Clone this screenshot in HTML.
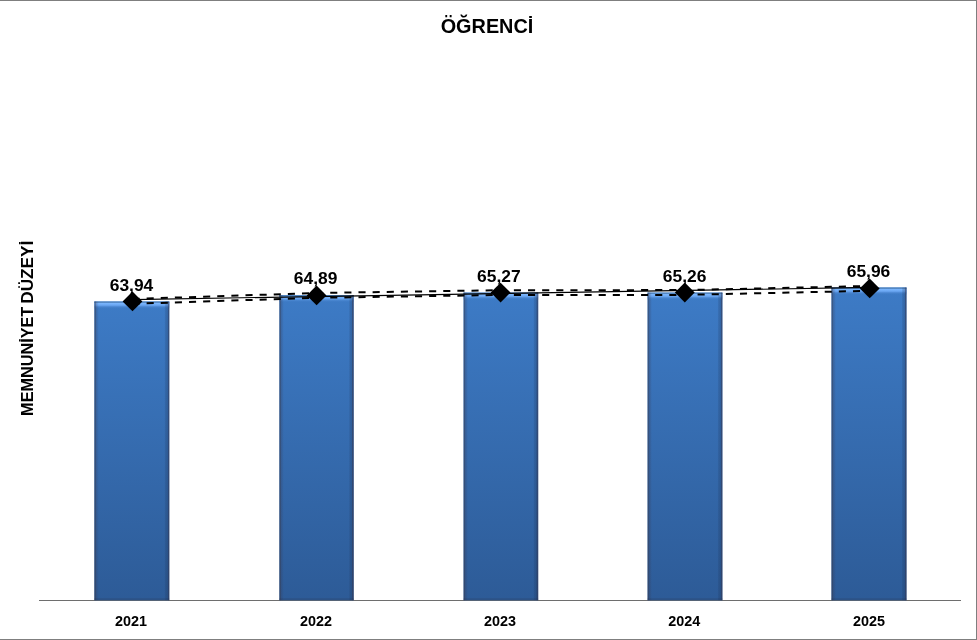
<!DOCTYPE html>
<html lang="tr"><head><meta charset="utf-8"><title>ÖĞRENCİ</title>
<style>
html,body{margin:0;padding:0;background:#fff;}
body{width:977px;height:640px;overflow:hidden;}
svg{display:block;}
text{font-family:"Liberation Sans",Arial,sans-serif;font-weight:bold;fill:#000;}
</style></head><body>
<svg width="977" height="640" viewBox="0 0 977 640">
<defs>
<linearGradient id="bg" x1="0" y1="0" x2="0" y2="1">
<stop offset="0" stop-color="#3d7bc6"/><stop offset="1" stop-color="#2d5b97"/>
</linearGradient>
<linearGradient id="hl" x1="0" y1="0" x2="0" y2="1">
<stop offset="0" stop-color="#4f83c0"/><stop offset="0.14" stop-color="#5489c6"/><stop offset="0.24" stop-color="#7ab5fc"/><stop offset="0.5" stop-color="#6ca8f4" stop-opacity="0.95"/><stop offset="0.75" stop-color="#4c88d2" stop-opacity="0.6"/><stop offset="1" stop-color="#3d7bc6" stop-opacity="0"/>
</linearGradient>
<linearGradient id="le" x1="0" y1="0" x2="1" y2="0">
<stop offset="0" stop-color="#373748" stop-opacity="0.35"/><stop offset="0.14" stop-color="#373748" stop-opacity="0.5"/><stop offset="0.36" stop-color="#373748" stop-opacity="0.5"/><stop offset="0.44" stop-color="#373750" stop-opacity="0.24"/><stop offset="0.6" stop-color="#373750" stop-opacity="0.2"/><stop offset="0.8" stop-color="#373750" stop-opacity="0.07"/><stop offset="1" stop-color="#373750" stop-opacity="0"/>
</linearGradient>
<linearGradient id="re" x1="0" y1="0" x2="1" y2="0">
<stop offset="0" stop-color="#182846" stop-opacity="0"/><stop offset="0.25" stop-color="#182846" stop-opacity="0.16"/><stop offset="0.64" stop-color="#182846" stop-opacity="0.24"/><stop offset="0.7" stop-color="#303450" stop-opacity="0.6"/><stop offset="1" stop-color="#303450" stop-opacity="0.62"/>
</linearGradient>
</defs>
<rect x="0" y="0" width="977" height="640" fill="#ffffff"/>
<rect x="0" y="0" width="977" height="1" fill="#7f7f7f"/>
<rect x="0" y="639" width="977" height="1" fill="#7f7f7f"/>
<rect x="976" y="0" width="1" height="640" fill="#7f7f7f"/>
<text x="487" y="32.6" font-size="19.3" text-anchor="middle" textLength="92.6" lengthAdjust="spacingAndGlyphs">ÖĞRENCİ</text>
<text transform="translate(33,415.9) rotate(-90)" font-size="16.5"><tspan x="0" textLength="109.2" lengthAdjust="spacingAndGlyphs">MEMNUNİYET</tspan> <tspan x="112.2" textLength="63" lengthAdjust="spacingAndGlyphs">DÜZEYİ</tspan></text>

<rect x="39" y="600" width="922" height="1" fill="#6e6e6e"/>
<g><rect x="94.3" y="301.5" width="75.0" height="298.8" fill="url(#bg)"/>
<rect x="94.3" y="301.5" width="75.0" height="7.5" fill="url(#hl)"/>
<rect x="94.3" y="301.5" width="4.6" height="298.8" fill="url(#le)"/>
<rect x="164.3" y="301.5" width="5" height="298.8" fill="url(#re)"/>
<rect x="94.3" y="598.3" width="75.0" height="2" fill="#28304e" fill-opacity="0.22"/></g>
<g><rect x="279.3" y="295.0" width="74.4" height="305.3" fill="url(#bg)"/>
<rect x="279.3" y="295.0" width="74.4" height="7.5" fill="url(#hl)"/>
<rect x="279.3" y="295.0" width="4.6" height="305.3" fill="url(#le)"/>
<rect x="348.7" y="295.0" width="5" height="305.3" fill="url(#re)"/>
<rect x="279.3" y="598.3" width="74.4" height="2" fill="#28304e" fill-opacity="0.22"/></g>
<g><rect x="463.5" y="292.6" width="74.7" height="307.7" fill="url(#bg)"/>
<rect x="463.5" y="292.6" width="74.7" height="7.5" fill="url(#hl)"/>
<rect x="463.5" y="292.6" width="4.6" height="307.7" fill="url(#le)"/>
<rect x="533.2" y="292.6" width="5" height="307.7" fill="url(#re)"/>
<rect x="463.5" y="598.3" width="74.7" height="2" fill="#28304e" fill-opacity="0.22"/></g>
<g><rect x="647.5" y="292.6" width="74.9" height="307.7" fill="url(#bg)"/>
<rect x="647.5" y="292.6" width="74.9" height="7.5" fill="url(#hl)"/>
<rect x="647.5" y="292.6" width="4.6" height="307.7" fill="url(#le)"/>
<rect x="717.4" y="292.6" width="5" height="307.7" fill="url(#re)"/>
<rect x="647.5" y="598.3" width="74.9" height="2" fill="#28304e" fill-opacity="0.22"/></g>
<g><rect x="831.4" y="287.5" width="75.1" height="312.8" fill="url(#bg)"/>
<rect x="831.4" y="287.5" width="75.1" height="7.5" fill="url(#hl)"/>
<rect x="831.4" y="287.5" width="4.6" height="312.8" fill="url(#le)"/>
<rect x="901.5" y="287.5" width="5" height="312.8" fill="url(#re)"/>
<rect x="831.4" y="598.3" width="75.1" height="2" fill="#28304e" fill-opacity="0.22"/></g>
<polyline points="132.5,299.0 316.6,293.0 500.6,290.2 684.8,290.1 869.7,286.0" fill="none" stroke="#000" stroke-width="2" stroke-dasharray="7.1 7.03"/>
<polyline points="132.5,303.8 316.6,297.8 500.6,295.0 684.8,294.9 869.7,290.8" fill="none" stroke="#000" stroke-width="2" stroke-dasharray="7.1 7.03"/>
<line x1="132.5" y1="299.6" x2="869.7" y2="287.4" stroke="#000" stroke-width="1.1"/>
<polygon points="122.6,301.4 132.5,291.5 142.4,301.4 132.5,311.3" fill="#000"/>
<polygon points="306.7,295.4 316.6,285.5 326.5,295.4 316.6,305.3" fill="#000"/>
<polygon points="490.7,292.6 500.6,282.7 510.5,292.6 500.6,302.5" fill="#000"/>
<polygon points="674.9,292.5 684.8,282.6 694.7,292.5 684.8,302.4" fill="#000"/>
<polygon points="859.8,288.4 869.7,278.5 879.6,288.4 869.7,298.3" fill="#000"/>
<text x="131.5" y="290.9" font-size="16.8" text-anchor="middle" textLength="43.6" lengthAdjust="spacingAndGlyphs">63,94</text>
<text x="315.6" y="283.6" font-size="16.8" text-anchor="middle" textLength="43.6" lengthAdjust="spacingAndGlyphs">64,89</text>
<text x="498.8" y="281.9" font-size="16.8" text-anchor="middle" textLength="43.6" lengthAdjust="spacingAndGlyphs">65,27</text>
<text x="684.6" y="281.5" font-size="16.8" text-anchor="middle" textLength="43.6" lengthAdjust="spacingAndGlyphs">65,26</text>
<text x="868.5" y="276.5" font-size="16.8" text-anchor="middle" textLength="43.6" lengthAdjust="spacingAndGlyphs">65,96</text>
<text x="130.9" y="625.9" font-size="14" text-anchor="middle" textLength="32" lengthAdjust="spacingAndGlyphs">2021</text>
<text x="315.9" y="625.9" font-size="14" text-anchor="middle" textLength="32" lengthAdjust="spacingAndGlyphs">2022</text>
<text x="500.0" y="625.9" font-size="14" text-anchor="middle" textLength="32" lengthAdjust="spacingAndGlyphs">2023</text>
<text x="684.3" y="625.9" font-size="14" text-anchor="middle" textLength="32" lengthAdjust="spacingAndGlyphs">2024</text>
<text x="868.9" y="625.9" font-size="14" text-anchor="middle" textLength="32" lengthAdjust="spacingAndGlyphs">2025</text>
</svg>
</body></html>
